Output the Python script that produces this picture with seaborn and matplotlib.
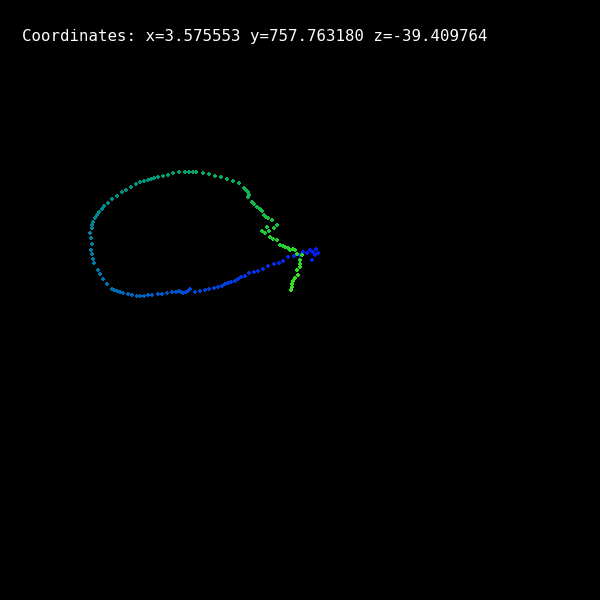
import numpy as np
import pandas as pd
import matplotlib
matplotlib.use("Agg")
import matplotlib.pyplot as plt
import seaborn as sns
from matplotlib.colors import LinearSegmentedColormap

# trajectory points (screen pixels), in the order they were recorded
xs = [315, 313, 310, 316, 318, 312, 307, 303, 300,
      294, 288, 283, 279, 274, 268, 263, 258, 254, 249, 245, 241, 238, 235, 231,
      228, 225, 222, 218, 214, 209, 205, 200, 195, 190, 188, 186, 183, 181, 179,
      176, 172, 167, 162, 158, 152, 148, 144, 140, 137, 132, 128, 123, 120, 117,
      114, 112, 107, 103, 100, 98, 94, 93, 92, 91, 92, 91, 90, 92, 92, 93, 95,
      97, 99, 102, 104, 108, 112, 117, 122, 126, 131, 136, 140, 144, 148, 151,
      154, 158, 163, 168, 173, 179, 185, 189, 193, 196, 203, 209, 215, 221, 227,
      233, 239, 244, 246, 248, 249, 248, 252, 254, 257, 260, 262, 264, 266, 268,
      272, 277, 274, 267, 262, 265, 269, 270, 273, 277, 280, 283, 285, 288, 290,
      293, 295, 297, 302, 300, 300, 300, 297, 298, 295, 293, 292, 292, 291]
ys = [255, 252, 250, 249, 253, 260, 253, 252, 255,
      256, 257, 261, 263, 264, 266, 269, 271, 272, 273, 276, 277, 279, 281, 282,
      283, 284, 286, 287, 288, 289, 290, 291, 292, 289, 291, 292, 293, 292, 291,
      292, 292, 293, 294, 294, 295, 295, 296, 296, 296, 295, 294, 293, 292, 291,
      290, 289, 284, 279, 274, 270, 263, 259, 254, 250, 244, 238, 233, 228, 225,
      222, 218, 215, 212, 209, 206, 203, 199, 196, 192, 190, 187, 184, 182, 181,
      180, 179, 178, 177, 176, 175, 173, 172, 172, 172, 172, 172, 173, 174, 176,
      177, 179, 181, 183, 188, 190, 192, 195, 197, 202, 204, 207, 209, 211, 215,
      217, 218, 220, 225, 228, 227, 231, 233, 231, 237, 239, 240, 245, 246, 247,
      248, 250, 249, 250, 254, 255, 260, 264, 267, 270, 275, 278, 281, 284, 287,
      290]

coord_label = "Coordinates: x=3.575553 y=757.763180 z=-39.409764"

df = pd.DataFrame({"x": xs, "y": ys})
df["order"] = np.arange(len(df))

trail = LinearSegmentedColormap.from_list("trail", [
    (0.00, (0.0, 0.10, 1.00)),
    (0.25, (0.0, 0.30, 0.80)),
    (0.45, (0.0, 0.50, 0.63)),
    (0.60, (0.0, 0.60, 0.45)),
    (0.80, (0.10, 0.75, 0.25)),
    (1.00, (0.20, 0.90, 0.10)),
])

fig = plt.figure(figsize=(6, 6), dpi=100)
fig.patch.set_facecolor("black")
ax = fig.add_axes([0, 0, 1, 1])
ax.set_facecolor("black")

sns.scatterplot(data=df, x="x", y="y", hue="order", palette=trail,
                marker="P", s=12, linewidth=0, legend=False, ax=ax)

ax.set_xlim(0, 600)
ax.set_ylim(600, 0)
ax.axis("off")

ax.text(22, 36, coord_label, color="white", family="DejaVu Sans Mono",
        fontsize=11.3, va="center", ha="left")

fig.savefig("out.png", dpi=100, facecolor="black")
